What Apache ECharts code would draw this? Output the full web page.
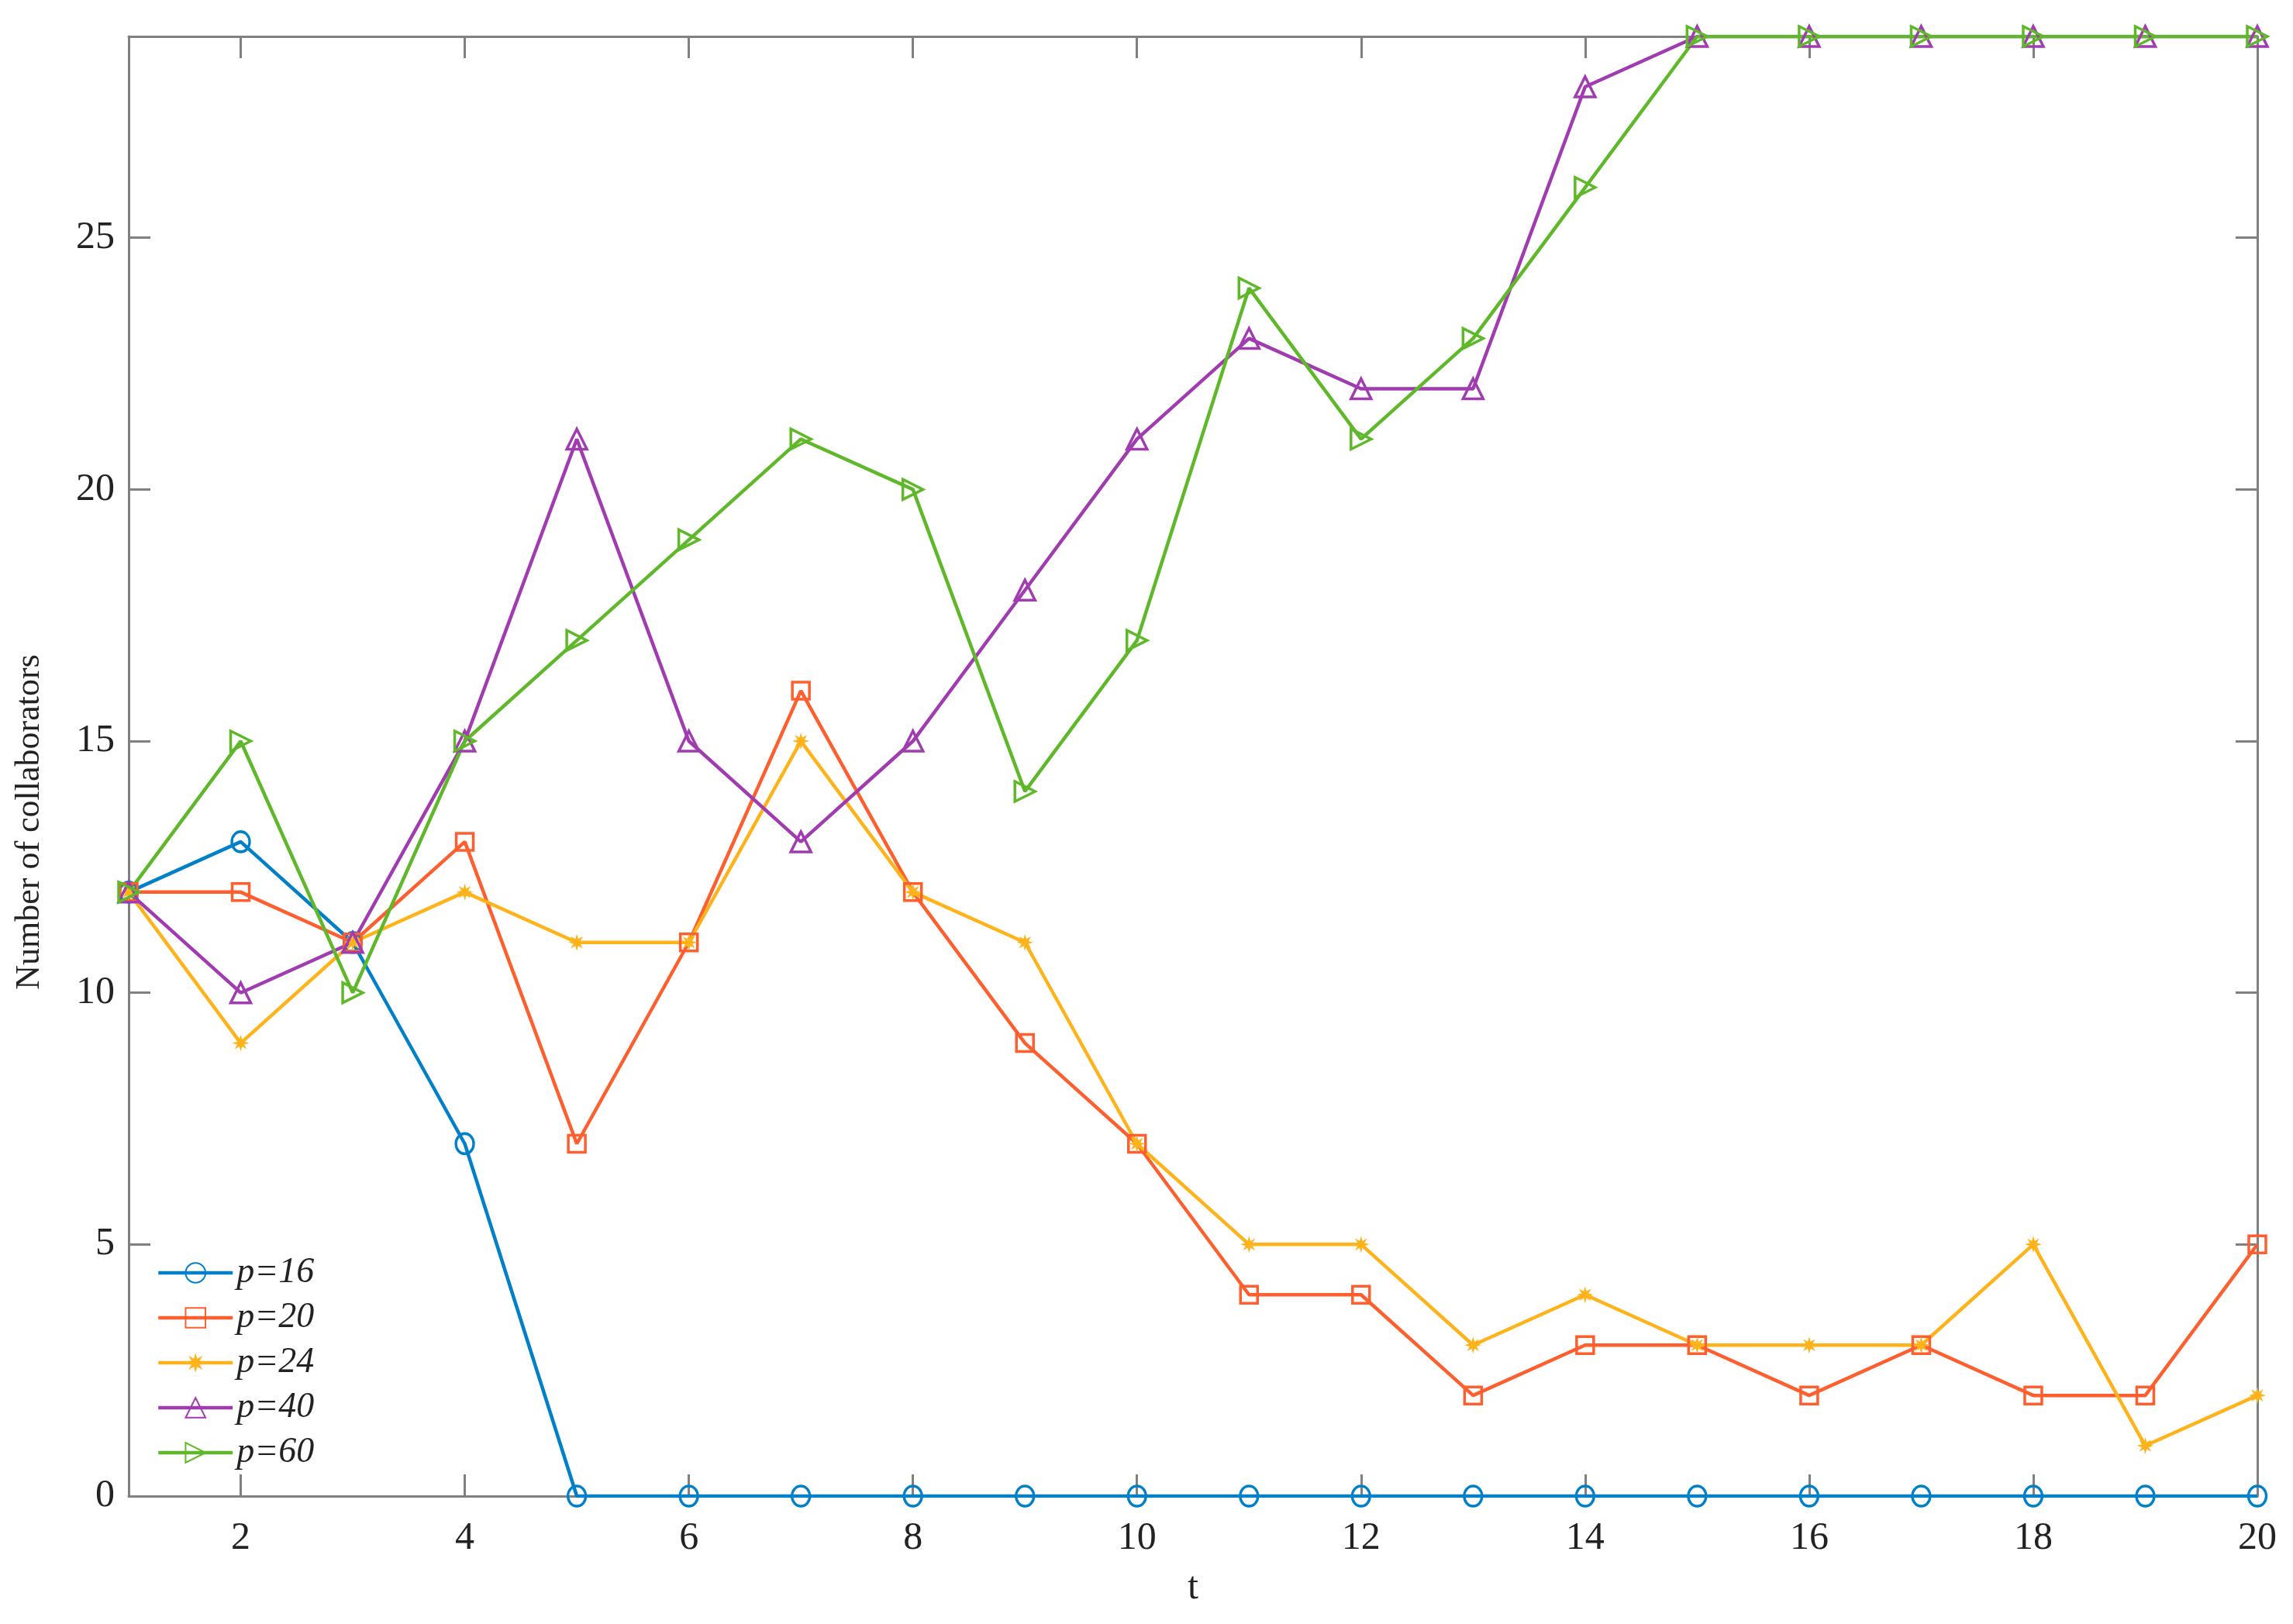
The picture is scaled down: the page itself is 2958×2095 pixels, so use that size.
<!DOCTYPE html>
<html>
<head>
<meta charset="utf-8">
<script src="https://cdn.jsdelivr.net/npm/echarts@6/dist/echarts.min.js"></script>
<style>
html,body{margin:0;padding:0;background:#fff;}
#chart{width:2958px;height:2095px;}
</style>
</head>
<body>
<div id="chart"></div>
<script>
const tValues = [1,2,3,4,5,6,7,8,9,10,11,12,13,14,15,16,17,18,19,20];
const xTicks = [2,4,6,8,10,12,14,16,18,20];
const p16 = [12,13,11,7,0,0,0,0,0,0,0,0,0,0,0,0,0,0,0,0];
const p20 = [12,12,11,13,7,11,16,12,9,7,4,4,2,3,3,2,3,2,2,5];
const p24 = [12,9,11,12,11,11,15,12,11,7,5,5,3,4,3,3,3,5,1,2];
const p40 = [12,10,11,15,21,15,13,15,18,21,23,22,22,28,29,29,29,29,29,29];
const p60 = [12,15,10,15,17,19,21,20,14,17,24,21,23,26,29,29,29,29,29,29];
const seriesNames = ['p=16','p=20','p=24','p=40','p=60'];
const yTicks = [0,5,10,15,20,25];

const colors = ['#0080C8','#FF5F2E','#FFB31A','#A03CB0','#5FB82A'];
const font = 'Liberation Serif';
const axisGray = '#808080';
const asterisk = 'path://M50,0 L58.4,29.7 L85.4,14.6 L70.3,41.6 L100,50 L70.3,58.4 L85.4,85.4 L58.4,70.3 L50,100 L41.6,70.3 L14.6,85.4 L29.7,58.4 L0,50 L29.7,41.6 L14.6,14.6 L41.6,29.7 Z';

function pairs(vals) { return tValues.map(function (t, i) { return [t, vals[i]]; }); }

function mk(name, data, color, symbol, size, rotate, filled) {
  return {
    name: name, type: 'line', data: pairs(data),
    xAxisIndex: 0, yAxisIndex: 0,
    symbol: symbol, symbolSize: size, symbolRotate: rotate,
    showAllSymbol: true,
    lineStyle: {color: color, width: 4.5},
    itemStyle: filled ? {color: color, borderColor: color, borderWidth: 0}
                      : {color: 'rgba(255,255,255,0)', borderColor: color, borderWidth: 3.5},
    emphasis: {disabled: true},
    animation: false,
    z: 3
  };
}

const chart = echarts.init(document.getElementById('chart'));
const xAxisBase = {
  type: 'value', min: 1, max: 20,
  axisLine: {show: true, onZero: false, lineStyle: {color: axisGray, width: 3}},
  axisTick: {show: true, inside: true, length: 28, customValues: xTicks, lineStyle: {color: axisGray, width: 3}},
  splitLine: {show: false}
};
chart.setOption({
  backgroundColor: '#fff',
  animation: false,
  grid: {left: 166, right: 46, top: 47, bottom: 165, containLabel: false},
  legend: {
    orient: 'vertical', left: 197, top: 1614,
    itemWidth: 96, itemHeight: 32, itemGap: 12,
    lineStyle: {width: 4.5},
    textStyle: {fontFamily: font, fontStyle: 'italic', fontSize: 46, color: '#222', lineHeight: 40},
    data: seriesNames,
    selectedMode: false
  },
  xAxis: [Object.assign({}, xAxisBase, {
    position: 'bottom',
    name: 't', nameLocation: 'middle', nameGap: 94,
    nameTextStyle: {fontFamily: font, fontSize: 50, color: '#222'},
    axisLabel: {customValues: xTicks, fontFamily: font, fontSize: 50, color: '#222', margin: 30}
  }), Object.assign({}, xAxisBase, {
    position: 'top',
    axisLabel: {show: false}
  })],
  yAxis: [{
    type: 'value', min: 0, max: 29, interval: 5, position: 'left',
    name: 'Number of collaborators', nameLocation: 'middle', nameGap: 106,
    nameTextStyle: {fontFamily: font, fontSize: 44, color: '#222', padding: [0, 144, 0, 0]},
    axisLine: {show: true, onZero: false, lineStyle: {color: axisGray, width: 3}},
    axisTick: {show: true, inside: true, length: 28, lineStyle: {color: axisGray, width: 3}},
    axisLabel: {fontFamily: font, fontSize: 50, color: '#222', margin: 18,
      formatter: function (v) { return yTicks.indexOf(v) >= 0 ? String(v) : ''; }},
    splitLine: {show: false}
  }, {
    type: 'value', min: 0, max: 29, interval: 5, position: 'right',
    axisLine: {show: true, onZero: false, lineStyle: {color: axisGray, width: 3}},
    axisTick: {show: true, inside: true, length: 28, lineStyle: {color: axisGray, width: 3}},
    axisLabel: {show: false},
    splitLine: {show: false}
  }],
  series: [
    mk(seriesNames[0], p16, colors[0], 'circle', [23, 26], 0, false),
    mk(seriesNames[1], p20, colors[1], 'rect', 22, 0, false),
    mk(seriesNames[2], p24, colors[2], asterisk, 22, 0, true),
    mk(seriesNames[3], p40, colors[3], 'triangle', 26, 0, false),
    mk(seriesNames[4], p60, colors[4], 'triangle', 26, -90, false)
  ]
});
</script>
</body>
</html>
